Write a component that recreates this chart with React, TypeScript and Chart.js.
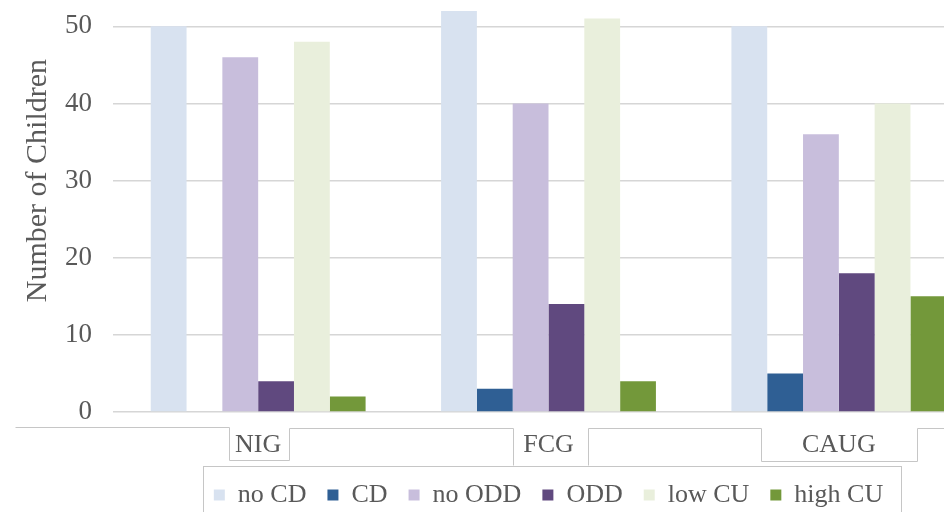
import React, { useEffect, useRef } from "react";
import { Chart, registerables } from "chart.js";

Chart.register(...registerables);

const groups = ["NIG", "FCG", "CAUG"];
const seriesNames = ["no CD", "CD", "no ODD", "ODD", "low CU", "high CU"];
const noCD = [50, 52, 50];
const cd = [0, 3, 5];
const noODD = [46, 40, 36];
const odd = [4, 14, 18];
const lowCU = [48, 51, 40];
const highCU = [2, 4, 15];
const seriesColors = ["#d8e2f0", "#2f5f94", "#c8bedc", "#60497f", "#e9efdc", "#73983a"];
const yTicks = [0, 10, 20, 30, 40, 50, 60];

const FONT = "'Liberation Serif', 'Times New Roman', serif";
const TEXT = "#595959";

// thin grey frames around the category labels and the legend
const framePlugin = {
  id: "labelFrames",
  afterDraw(chart: any) {
    const { ctx, chartArea, scales, legend } = chart;
    const b = chartArea.bottom;
    const c = groups.map((_, i) => scales.x.getPixelForValue(i));
    ctx.save();
    ctx.strokeStyle = "#c6c6c6";
    ctx.lineWidth = 1;
    const poly = (pts: number[][]) => {
      ctx.beginPath();
      pts.forEach(([px, py], i) => {
        const X = Math.round(px) + 0.5;
        const Y = Math.round(py) + 0.5;
        if (i) ctx.lineTo(X, Y);
        else ctx.moveTo(X, Y);
      });
      ctx.stroke();
    };
    poly([
      [c[0] - 243, b + 15],
      [c[0] - 29, b + 15],
      [c[0] - 29, b + 48],
      [c[0] + 31, b + 48],
      [c[0] + 31, b + 16],
      [c[1] - 36, b + 16],
      [c[1] - 36, b + 53],
    ]);
    poly([
      [c[1] + 39, b + 53],
      [c[1] + 39, b + 16],
      [c[2] - 78, b + 16],
      [c[2] - 78, b + 49],
      [c[2] + 78, b + 49],
      [c[2] + 78, b + 16],
      [chartArea.right + 60, b + 16],
    ]);
    const hb = legend.legendHitBoxes;
    if (hb && hb.length) {
      const first = hb[0];
      const last = hb[hb.length - 1];
      const top = first.top + first.height / 2 - 29;
      const left = first.left - 11;
      const right = last.left + last.width + 18;
      ctx.strokeRect(Math.round(left) + 0.5, Math.round(top) + 0.5, Math.round(right - left), 200);
    }
    ctx.restore();
  },
};

export default function App() {
  const canvasRef = useRef<HTMLCanvasElement | null>(null);

  useEffect(() => {
    document.body.style.margin = "0";
    document.body.style.overflow = "hidden";
    const values = [noCD, cd, noODD, odd, lowCU, highCU];
    const chart = new Chart(canvasRef.current as HTMLCanvasElement, {
      type: "bar",
      data: {
        labels: groups,
        datasets: seriesNames.map((name, i) => ({
          label: name,
          data: values[i],
          backgroundColor: seriesColors[i],
          borderWidth: 0,
          barPercentage: 1,
          categoryPercentage: 0.74,
        })),
      },
      options: {
        animation: false,
        responsive: true,
        maintainAspectRatio: false,
        layout: { padding: { left: 8, right: 16, top: 0, bottom: 0 } },
        scales: {
          x: {
            grid: { display: false },
            border: { display: false },
            ticks: { color: TEXT, font: { family: FONT, size: 26 }, padding: 10 },
            afterFit: (axis: any) => {
              axis.height = 49;
            },
          },
          y: {
            min: 0,
            max: 60,
            afterBuildTicks: (axis: any) => {
              axis.ticks = yTicks.map((v) => ({ value: v }));
            },
            afterFit: (axis: any) => {
              axis.width = 105;
            },
            grid: { color: "#d6d6d6", lineWidth: 1.5, drawTicks: false },
            border: { display: false },
            ticks: { color: TEXT, font: { family: FONT, size: 27 }, padding: 21 },
            title: {
              display: true,
              text: "Number of Children",
              color: TEXT,
              font: { family: FONT, size: 30 },
              padding: { top: 12, bottom: 11 },
            },
          },
        },
        plugins: {
          legend: {
            position: "bottom",
            fullSize: false,
            labels: {
              boxWidth: 11,
              boxHeight: 11,
              padding: 21,
              color: TEXT,
              font: { family: FONT, size: 26 },
            },
          },
          tooltip: { enabled: false },
        },
      },
      plugins: [framePlugin],
    });
    return () => chart.destroy();
  }, []);

  return (
    <div
      style={{
        position: "fixed",
        left: 0,
        top: 0,
        width: 944,
        height: 512,
        overflow: "hidden",
        background: "#fff",
      }}
    >
      <div style={{ position: "absolute", left: 0, top: -88, width: 1000, height: 606 }}>
        <canvas ref={canvasRef} />
      </div>
    </div>
  );
}
